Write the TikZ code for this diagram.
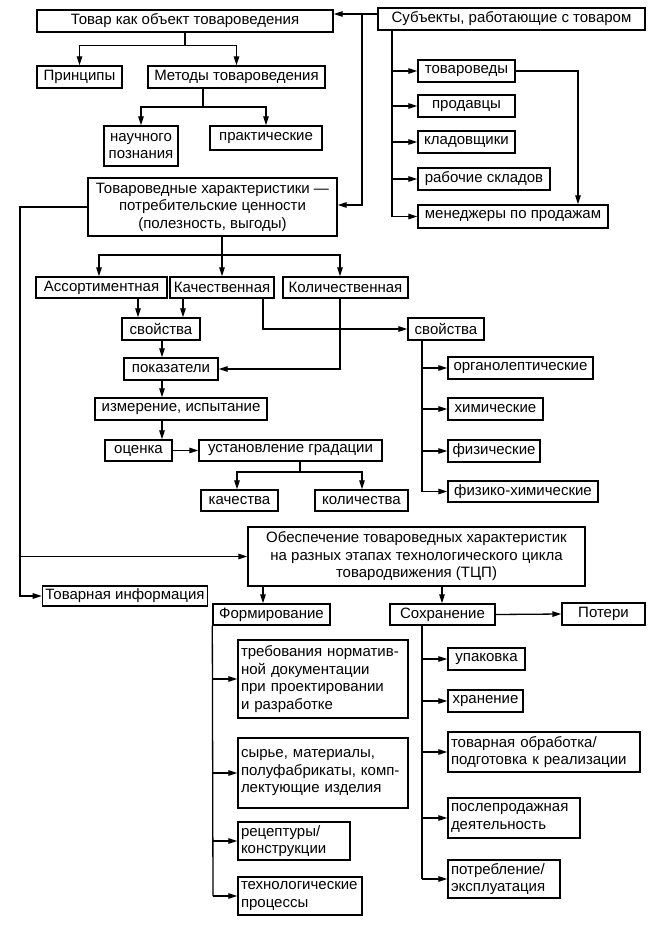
\documentclass[tikz,border=0pt]{standalone}
\usepackage{fontspec}
\setmainfont{Liberation Sans}
\usetikzlibrary{arrows.meta}
\newcommand\myfs{\fontsize{15pt}{17.5pt}\selectfont}
\begin{document}
\begin{tikzpicture}[x=1pt,y=-1pt,
 box/.style={draw,line width=1.4pt,inner xsep=3pt,inner ysep=1pt,font=\myfs,minimum height=22pt,anchor=center},
 arr/.style={line width=1.3pt,-{Triangle[length=9pt,width=5.5pt]}},
 ln/.style={line width=1.3pt}]
\useasboundingbox (0,0) rectangle (664,943);
% top
\node[box,minimum width=296] (tovar) at (185,21) {Товар как объект товароведения};
\node[box,minimum width=267] (subj) at (511.5,19) {Субъекты, работающие с товаром};
\node[box,minimum width=85] (princ) at (79.5,77) {Принципы};
\node[box,minimum width=177] (metody) at (236.5,77) {Методы товароведения};
\node[box,minimum width=74,minimum height=40,align=center] (nauch) at (141,146) {научного\\познания};
\node[box,minimum width=112,minimum height=24] (prakt) at (266,138) {практические};
\node[box,minimum width=97] (tovaroved) at (466.5,71) {товароведы};
\node[box,minimum width=97] (prodavcy) at (466.5,106) {продавцы};
\node[box,minimum width=97] (klad) at (466.5,142) {кладовщики};
\node[box,minimum width=132] (rabochie) at (484,179) {рабочие складов};
\node[box,minimum width=190,minimum height=23] (menedzh) at (513,216.5) {менеджеры по продажам};
\node[box,minimum width=249,minimum height=58,align=center] (harakt) at (212.5,207) {Товароведные характеристики —\\потребительские ценности\\(полезность, выгоды)};
% middle
\node[box,minimum width=131,minimum height=21] (assort) at (101.5,287.5) {Ассортиментная};
\node[box,minimum width=104,minimum height=21] (kachestv) at (222,287.5) {Качественная};
\node[box,minimum width=125,minimum height=21] (kolich) at (345.5,287.5) {Количественная};
\node[box,minimum width=78] (svL) at (161,329) {свойства};
\node[box,minimum width=76] (svR) at (446,329) {свойства};
\node[box,minimum width=94] (pokaz) at (171,369) {показатели};
\node[box,minimum width=172] (izmer) at (181,409) {измерение, испытание};
\node[box,minimum width=67,minimum height=21] (ocenka) at (138.5,450.5) {оценка};
\node[box,minimum width=183,minimum height=21] (ustanov) at (290.5,450.5) {установление градации};
\node[box,minimum width=77,minimum height=21] (kachestva) at (239.5,500.5) {качества};
\node[box,minimum width=93,minimum height=21] (kolichestva) at (361.5,500.5) {количества};
\node[box,minimum width=145] (organ) at (520.5,368) {органолептические};
\node[box,minimum width=95] (him) at (495.5,409) {химические};
\node[box,minimum width=92] (fiz) at (494,451) {физические};
\node[box,minimum width=150,minimum height=21] (fizhim) at (523,491.5) {физико-химические};
% bottom
\node[box,minimum width=337,minimum height=59,align=center] (obesp) at (416.5,556.5) {Обеспечение товароведных характеристик\\на разных этапах технологического цикла\\товародвижения (ТЦП)};
\node[box,minimum width=164,minimum height=20] (tovinfo) at (125,596) {Товарная информация};
\node[box,minimum width=117,minimum height=21] (form) at (271.5,614.5) {Формирование};
\node[box,minimum width=105,minimum height=21] (sohr) at (442.5,614.5) {Сохранение};
\node[box,minimum width=83] (poteri) at (603.5,614) {Потери};
\node[box,text width=164,align=left,minimum height=78] (treb) at (323,679) {требования норматив-\\ной документации\\при проектировании\\и разработке};
\node[box,text width=164,align=left,minimum height=70] (syrie) at (323,773) {сырье, материалы,\\полуфабрикаты, комп-\\лектующие изделия};
\node[box,text width=106,align=left,minimum height=38] (recept) at (294,841) {рецептуры/\\конструкции};
\node[box,text width=118,align=left,minimum height=38] (tehnol) at (300,896) {технологические\\процессы};
\node[box,minimum width=77] (upak) at (486.5,659) {упаковка};
\node[box,minimum width=75] (hran) at (485.5,701) {хранение};
\node[box,text width=186,align=left,minimum height=40] (tovobr) at (544,752) {товарная обработка/\\подготовка к реализации};
\node[box,text width=126,align=left,minimum height=40] (poslep) at (514,818) {послепродажная\\деятельность};
\node[box,text width=106,align=left,minimum height=38] (potreb) at (504,879) {потребление/\\эксплуатация};
% connectors top
\draw[arr] (subj.west |- 0,14) -- (tovar.east |- 0,14);
\draw[arr] (362,14) -- (362,205) -- (harakt.east |- 0,205);
\draw[arr] (tovar.south) -- ++(0,13) -| (princ.north);
\draw[arr] (tovar.south) ++(0,13) -| (metody.north);
\draw[arr] (metody.south -| 203,0) -- (203,107) -| (nauch.north);
\draw[arr] (203,107) -| (prakt.north);
\draw[ln] (subj.south -| 392,0) -- (menedzh.west -| 392,0);
\foreach \n in {tovaroved,prodavcy,klad,rabochie,menedzh} \draw[arr] (\n.west -| 392,0) -- (\n.west);
\draw[arr] (tovaroved.east) -| (menedzh.north -| 578,0);
% middle connectors
\draw[arr] (harakt.south -| 222,0) -- (222,255) -| (assort.north -| 99,0);
\draw[arr] (222,255) -- (kachestv.north -| 222,0);
\draw[arr] (222,255) -| (kolich.north -| 340,0);
\draw[arr] (assort.south -| 138,0) -- (svL.north -| 138,0);
\draw[arr] (kachestv.south -| 183,0) -- (svL.north -| 183,0);
\draw[arr] (kachestv.south -| 263,0) |- (svR.west);
\draw[arr] (kolich.south -| 340,0) |- (pokaz.east);
\draw[arr] (svL.south -| 162,0) -- (pokaz.north -| 162,0);
\draw[arr] (pokaz.south -| 162,0) -- (izmer.north -| 162,0);
\draw[arr] (izmer.south -| 162,0) -- (ocenka.north -| 162,0);
\draw[arr] (ocenka.east) -- (ustanov.west);
\draw[arr] (ustanov.south -| 300,0) -- (300,472) -| (kachestva.north -| 237,0);
\draw[arr] (300,472) -| (kolichestva.north -| 362,0);
\draw[ln] (svR.south -| 422,0) -- (fizhim.west -| 422,0);
\foreach \n in {organ,him,fiz,fizhim} \draw[arr] (\n.west -| 422,0) -- (\n.west);
% left line
\draw[arr] (harakt.west) -- (harakt.west -| 20,0) |- (tovinfo.west);
\draw[arr] (obesp.west -| 20,0) -- (obesp.west);
% bottom connectors
\draw[arr] (obesp.south -| 263,0) -- (form.north -| 263,0);
\draw[arr] (obesp.south -| 442,0) -- (sohr.north -| 442,0);
\draw[arr] (sohr.east) -- (poteri.west);
\draw[ln] (form.south west) -- (tehnol.west -| 213,0);
\foreach \n in {treb,syrie,recept,tehnol} \draw[arr] (\n.west -| 213,0) -- (\n.west);
\draw[ln] (sohr.south -| 422,0) -- (potreb.west -| 422,0);
\foreach \n in {upak,hran,tovobr,poslep,potreb} \draw[arr] (\n.west -| 422,0) -- (\n.west);
\end{tikzpicture}
\end{document}
